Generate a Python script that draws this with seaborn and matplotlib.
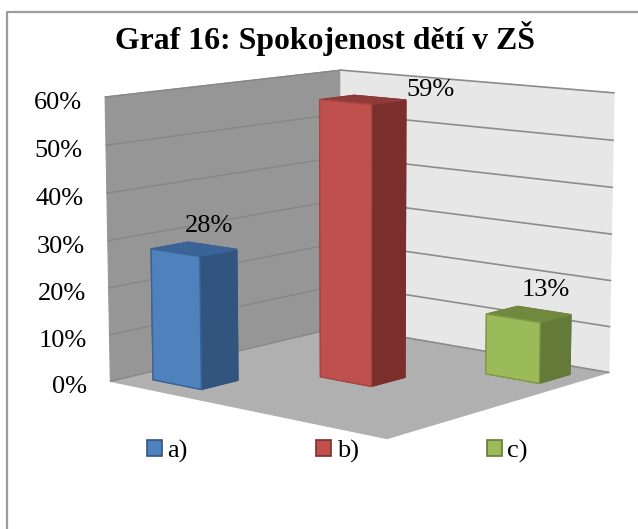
import matplotlib
matplotlib.use('Agg')
import matplotlib.pyplot as plt
from matplotlib.patches import Polygon, Rectangle
import numpy as np
import pandas as pd
import seaborn as sns

title = 'Graf 16: Spokojenost dětí v ZŠ'
categories = ['a)', 'b)', 'c)']
values = [28, 59, 13]
value_labels = ['28%', '59%', '13%']
y_ticks = [0, 10, 20, 30, 40, 50, 60]
y_tick_labels = ['0%', '10%', '20%', '30%', '40%', '50%', '60%']

front_colors = ['#4F81BD', '#C0504D', '#9BBB59']
side_colors = ['#32557F', '#7A2F2D', '#647A38']
top_colors = ['#3A6497', '#8F3B39', '#71893F']
edge_colors = ['#3A6497', '#A84644', '#7F9A48']

# where the corners of the chart box land on the picture, (u, depth, value) -> pixel
box_corners = [(0, 0, 0), (3, 0, 0), (3, 1, 0), (0, 1, 0), (0, 0, 60), (0, 1, 60), (3, 1, 60)]
box_pixels = [(110.5, 381), (387, 439), (609, 372), (341, 327), (105, 97), (341, 70), (614, 93)]


def fit_projection(corners, pixels):
    rows = []
    rhs = []
    for (u, d, z), (px, py) in zip(corners, pixels):
        rows.append([u, d, z, 1, 0, 0, 0, 0, -px * u, -px * d, -px * z])
        rhs.append(px)
        rows.append([0, 0, 0, 0, u, d, z, 1, -py * u, -py * d, -py * z])
        rhs.append(py)
    sol = np.linalg.lstsq(np.array(rows, dtype=float), np.array(rhs, dtype=float), rcond=None)[0]
    return np.append(sol, 1).reshape(3, 4)


P = fit_projection(box_corners, box_pixels)


def project(u, d, z):
    x, y, w = P @ np.array([u, d, z, 1.0])
    return x / w, y / w


sns.set_theme(style='white')
plt.rcParams['font.family'] = ['Liberation Serif', 'DejaVu Serif']

df = pd.DataFrame({'odpoved': categories, 'podil': values})

fig = plt.figure(figsize=(6.38, 5.29), dpi=100)

# seaborn works out the bars, they get redrawn in perspective below
ax_bars = fig.add_axes([0, 0, 1, 1])
sns.barplot(data=df, x='odpoved', y='podil', hue='odpoved', palette=front_colors,
            width=0.56, legend=False, ax=ax_bars)
bars = [(p.get_x(), p.get_width(), p.get_height()) for p in ax_bars.patches]
ax_bars.set_visible(False)

ax = fig.add_axes([0, 0, 1, 1])
ax.set_xlim(0, 638)
ax.set_ylim(529, 0)
ax.axis('off')


def face(points, color, edge=None, lw=0.8, zorder=2):
    ax.add_patch(Polygon([project(*p) for p in points], closed=True, facecolor=color,
                         edgecolor=edge if edge else color, linewidth=lw, zorder=zorder))


# outer frame, open at the cropped right and bottom
ax.plot([7, 7, 638], [529, 12, 12], color='#9C9C9C', lw=1.6, zorder=1)

# walls and floor
face([(0, 0, 0), (0, 1, 0), (0, 1, 60), (0, 0, 60)], '#969696')
face([(0, 1, 0), (3, 1, 0), (3, 1, 60), (0, 1, 60)], '#E7E7E7')
face([(0, 0, 0), (3, 0, 0), (3, 1, 0), (0, 1, 0)], '#B0B0B0')

for tick, label in zip(y_ticks, y_tick_labels):
    p0 = project(0, 0, tick)
    p1 = project(0, 1, tick)
    p2 = project(3, 1, tick)
    ax.plot([p0[0], p1[0]], [p0[1], p1[1]], color='#868686', lw=1.0, zorder=3)
    ax.plot([p1[0], p2[0]], [p1[1], p2[1]], color='#8C8C8C', lw=1.2, zorder=3)
    ax.text(p0[0] - 23, p0[1] + 6, label, ha='right', va='center', fontsize=19, color='black', zorder=6)

# bars sit on the diagonal of the floor, one cell in depth for each category
label_offsets = [(15, -23), (68, -10), (17, -24)]
for i, (x, w, h) in enumerate(bars):
    u0 = x + 0.51
    u1 = u0 + w
    d0 = (i + 0.5) / 3 - w / 7.5
    d1 = (i + 0.5) / 3 + w / 7.5
    z = 4 + i
    face([(u0, d0, 0), (u1, d0, 0), (u1, d1, 0), (u1, d1, h), (u0, d1, h), (u0, d0, h)],
         side_colors[i], zorder=z)
    face([(u1, d0, 0), (u1, d1, 0), (u1, d1, h), (u1, d0, h)], side_colors[i], zorder=z)
    face([(u0, d0, h), (u1, d0, h), (u1, d1, h), (u0, d1, h)], top_colors[i], zorder=z)
    face([(u0, d0, 0), (u1, d0, 0), (u1, d0, h), (u0, d0, h)], front_colors[i],
         edge=edge_colors[i], lw=1.0, zorder=z)
    cx, cy = project((u0 + u1) / 2, (d0 + d1) / 2, h)
    ax.text(cx + label_offsets[i][0], cy + label_offsets[i][1], value_labels[i],
            ha='center', va='center', fontsize=19, color='black', zorder=8)

ax.text(325, 38, title, ha='center', va='center', fontsize=22.9, fontweight='bold', color='black', zorder=8)

handles = [Rectangle((0, 0), 1, 1, facecolor=front_colors[i], edgecolor=side_colors[i], linewidth=1.2)
           for i in range(3)]
ax.legend(handles, categories, ncol=3, frameon=False, fontsize=19, loc='center left',
          bbox_to_anchor=(147, 451), bbox_transform=ax.transData, borderpad=0, borderaxespad=0,
          handlelength=0.58, handleheight=0.58, handletextpad=0.2, columnspacing=4.85,
          labelcolor='black')

plt.savefig('out.png', dpi=100)
plt.close()
